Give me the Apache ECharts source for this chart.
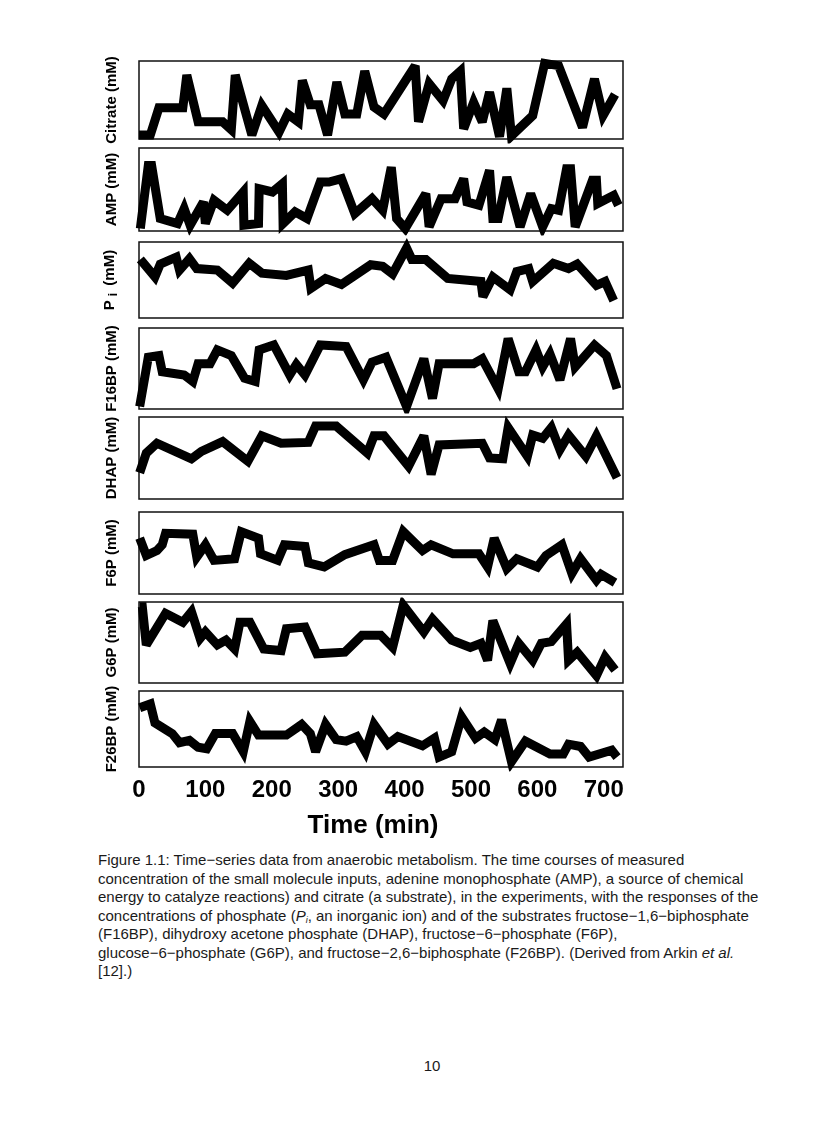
<!DOCTYPE html>
<html>
<head>
<meta charset="utf-8">
<script src="https://cdn.jsdelivr.net/npm/echarts@6/dist/echarts.min.js"></script>
<style>
  html, body { margin: 0; padding: 0; background: #fff; }
  #wrap { position: relative; width: 816px; height: 1123px; overflow: hidden; }
  #chart { position: absolute; left: 0; top: 0; width: 816px; height: 840px; }
  #caption { position: absolute; left: 98px; top: 851px; font-family: 'Liberation Sans', Arial, sans-serif;
    font-size: 15px; line-height: 18.5px; color: #1a1a1a; white-space: nowrap; }
  #caption sub { font-size: 9px; vertical-align: -2px; line-height: 0; }
  #page { position: absolute; left: 0; width: 864px; top: 1057px; text-align: center;
    font-family: 'Liberation Sans', Arial, sans-serif; font-size: 15px; color: #1a1a1a; }
</style>
</head>
<body>
<div id="wrap">
  <div id="chart"></div>
  <div id="caption">Figure 1.1: Time−series data from anaerobic metabolism. The time courses of measured<br>concentration of the small molecule inputs, adenine monophosphate (AMP), a source of chemical<br>energy to catalyze reactions) and citrate (a substrate), in the experiments, with the responses of the<br>concentrations of phosphate (<i>P<sub>i</sub></i>, an inorganic ion) and of the substrates fructose−1,6−biphosphate<br>(F16BP), dihydroxy acetone phosphate (DHAP), fructose−6−phosphate (F6P),<br>glucose−6−phosphate (G6P), and fructose−2,6−biphosphate (F26BP). (Derived from Arkin <i>et al.</i><br>[12].)</div>
  <div id="page">10</div>
</div>
<script>
// Time (min) and relative level (0-100 of panel height) for each measured series
const panelNames = ['Citrate (mM)', 'AMP (mM)', '{b|P}{s|i}{b| (mM)}', 'F16BP (mM)', 'DHAP (mM)', 'F6P (mM)', 'G6P (mM)', 'F26BP (mM)'];
const xTicks = [0, 100, 200, 300, 400, 500, 600, 700];

const citrate = [[0,5],[17,5],[30,40],[66,40],[72,82],[89,22],[126,22],[139,12],[145,82],[170,5],[185,43],[211,9],[224,32],[240,22],[246,75],[258,44],[271,44],[284,5],[298,73],[310,32],[328,32],[340,87],[354,41],[369,32],[416,94],[421,22],[437,71],[458,49],[471,77],[484,87],[489,13],[504,47],[517,22],[528,60],[543,3],[554,65],[561,4],[593,30],[611,97],[632,94],[668,15],[686,77],[699,30],[717,57]];
const amp = [[2,3],[14,79],[19,79],[32,15],[58,9],[68,27],[77,7],[97,35],[100,9],[113,37],[133,25],[157,47],[158,7],[180,9],[181,51],[201,47],[216,57],[217,9],[235,23],[253,15],[273,59],[286,59],[305,63],[325,21],[351,39],[367,25],[380,77],[388,15],[401,3],[432,45],[437,5],[455,39],[476,39],[489,63],[494,35],[512,31],[528,73],[533,15],[541,15],[554,65],[574,5],[590,45],[608,5],[621,27],[632,25],[644,75],[650,75],[657,5],[683,61],[689,61],[691,33],[715,43],[722,31]];
const pi = [[2,77],[24,54],[32,71],[56,80],[61,63],[76,78],[87,65],[118,63],[141,46],[166,72],[185,59],[222,56],[255,63],[259,39],[281,52],[305,44],[349,70],[367,68],[382,58],[403,92],[411,77],[432,77],[465,52],[515,48],[518,28],[533,54],[559,37],[569,61],[587,65],[593,48],[624,72],[647,65],[660,71],[689,43],[702,48],[715,23]];
const f16bp = [[1,3],[14,64],[30,66],[35,46],[68,42],[81,34],[89,56],[107,56],[118,73],[139,66],[159,38],[175,34],[181,73],[203,79],[227,42],[237,55],[250,42],[273,79],[312,77],[338,36],[351,58],[372,64],[403,3],[429,62],[442,13],[452,56],[504,56],[517,62],[541,25],[556,87],[572,46],[582,46],[598,73],[608,52],[619,68],[634,36],[650,87],[657,52],[686,79],[704,66],[720,25]];
const dhap = [[1,32],[11,56],[27,68],[79,49],[94,58],[126,70],[164,46],[185,77],[214,68],[255,69],[266,89],[297,89],[344,56],[354,77],[369,77],[406,40],[429,77],[440,30],[452,66],[517,68],[528,50],[548,49],[556,87],[585,52],[593,78],[608,74],[621,87],[634,60],[647,78],[673,52],[689,77],[720,26]];
const f6p = [[1,68],[11,47],[27,53],[35,60],[40,74],[81,73],[87,45],[100,60],[113,41],[144,43],[154,76],[180,68],[183,49],[209,41],[219,60],[250,58],[255,38],[279,33],[310,48],[354,60],[362,41],[382,41],[398,76],[427,53],[440,60],[473,49],[512,49],[525,33],[535,68],[554,31],[569,43],[600,33],[613,47],[637,60],[652,25],[665,43],[689,17],[696,24],[717,14]];
const g6p = [[1,94],[5,94],[11,47],[40,86],[66,75],[79,88],[92,55],[100,63],[118,47],[131,53],[144,42],[152,75],[167,75],[188,42],[214,40],[222,67],[250,69],[268,36],[310,38],[336,59],[364,59],[382,44],[398,96],[429,63],[442,79],[471,53],[499,44],[515,49],[525,28],[533,77],[559,24],[572,49],[593,28],[606,49],[621,51],[644,73],[647,28],[660,38],[689,9],[702,32],[717,16]];
const f26bp = [[1,78],[17,83],[24,58],[50,44],[61,32],[76,35],[89,26],[102,24],[115,44],[141,44],[157,20],[167,60],[180,42],[222,42],[245,56],[258,44],[266,20],[281,56],[297,36],[312,34],[328,40],[341,20],[354,56],[375,30],[390,40],[427,28],[445,38],[452,13],[471,20],[486,66],[507,38],[520,46],[536,36],[546,62],[561,7],[582,34],[619,17],[639,17],[647,30],[665,27],[678,13],[712,22],[720,13]];

const seriesData = [citrate, amp, pi, f16bp, dhap, f6p, g6p, f26bp];

const panelTops = [61, 148, 242, 328, 417, 512, 602, 691];
const panelHeights = [78, 83, 76, 81, 82, 82, 81, 82];
const FONT = "'Liberation Sans', Arial, Helvetica, sans-serif";

const grids = [], xAxes = [], yAxes = [], series = [];
seriesData.forEach((d, i) => {
  const last = i === seriesData.length - 1;
  grids.push({ left: 139, width: 484, top: panelTops[i], height: panelHeights[i],
    show: true, borderColor: '#111', borderWidth: 1.5, backgroundColor: 'transparent' });
  xAxes.push({
    type: 'value', gridIndex: i, min: 0, max: 729, interval: 100,
    axisLine: { show: false }, axisTick: { show: false }, splitLine: { show: false },
    axisLabel: last ? { show: true, showMaxLabel: false, margin: 11, color: '#000',
      fontFamily: FONT, fontWeight: 'bold', fontSize: 24,
      formatter: v => (xTicks.indexOf(v) >= 0 ? String(v) : '') } : { show: false },
    name: last ? 'Time (min)' : '', nameLocation: 'middle', nameGap: 46,
    nameTextStyle: { fontFamily: FONT, fontWeight: 'bold', fontSize: 26, color: '#000', padding: [0, 16, 0, 0] }
  });
  yAxes.push({
    type: 'value', gridIndex: i, min: 0, max: 100,
    axisLine: { show: false }, axisTick: { show: false }, splitLine: { show: false }, axisLabel: { show: false },
    name: panelNames[i], nameLocation: 'middle', nameGap: 20, nameRotate: 90,
    nameTextStyle: {
      fontFamily: FONT, fontWeight: 'bold', fontSize: 15, color: '#000',
      rich: {
        b: { fontFamily: FONT, fontWeight: 'bold', fontSize: 15, color: '#000', lineHeight: 17, verticalAlign: 'top' },
        s: { fontFamily: FONT, fontWeight: 'bold', fontSize: 12, color: '#000', lineHeight: 17, verticalAlign: 'top', padding: [6, 3, 0, 4] }
      }
    }
  });
  series.push({
    type: 'line', xAxisIndex: i, yAxisIndex: i, data: d,
    showSymbol: false, symbol: 'none', silent: true,
    lineStyle: { color: '#000', width: 9, join: 'miter', miterLimit: 3 }
  });
});

const chart = echarts.init(document.getElementById('chart'), null, { renderer: 'canvas' });
chart.setOption({
  animation: false,
  backgroundColor: '#fff',
  grid: grids, xAxis: xAxes, yAxis: yAxes, series: series
});
</script>
</body>
</html>
